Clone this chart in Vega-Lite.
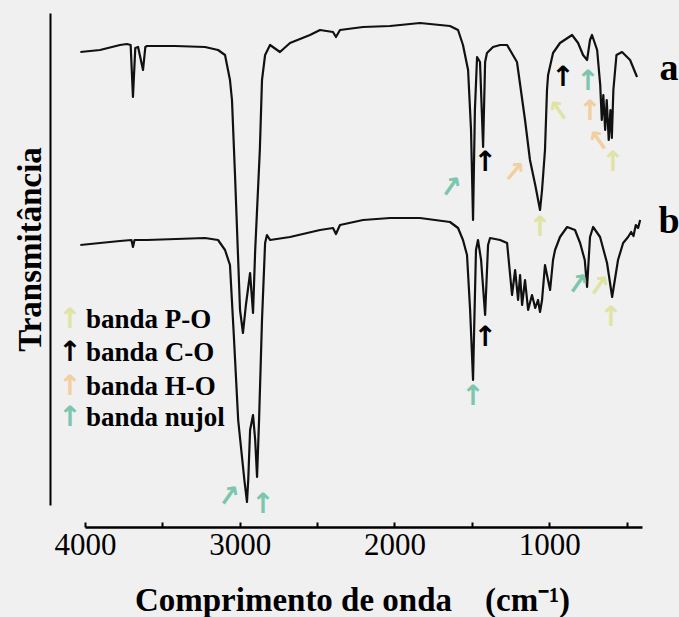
{
  "$schema": "https://vega.github.io/schema/vega-lite/v6.json",
  "width": 557,
  "height": 492,
  "autosize": "none",
  "padding": {"left": 85, "top": 13, "right": 37, "bottom": 112},
  "background": "#f0f0f0",
  "config": {
    "view": {"stroke": null},
    "axis": {"labelFont": "Liberation Serif", "titleFont": "Liberation Serif", "labelColor": "#000000", "titleColor": "#000000"}
  },
  "datasets": {
    "spectra": [
      {"s":"a","wn":4030,"T":90.6},{"s":"a","wn":3903,"T":91.0},{"s":"a","wn":3774,"T":92.0},{"s":"a","wn":3729,"T":92.2},{"s":"a","wn":3705,"T":92.0},{"s":"a","wn":3690,"T":81.6},{"s":"a","wn":3675,"T":91.4},{"s":"a","wn":3657,"T":91.6},{"s":"a","wn":3625,"T":87.0},{"s":"a","wn":3610,"T":91.6},{"s":"a","wn":3599,"T":91.8},{"s":"a","wn":3418,"T":91.8},{"s":"a","wn":3224,"T":91.6},{"s":"a","wn":3140,"T":91.0},{"s":"a","wn":3095,"T":90.0},{"s":"a","wn":3063,"T":85.0},{"s":"a","wn":3050,"T":81.0},{"s":"a","wn":3030,"T":65.6},{"s":"a","wn":3010,"T":49.0},{"s":"a","wn":2998,"T":39.0},{"s":"a","wn":2979,"T":34.4},{"s":"a","wn":2960,"T":40.0},{"s":"a","wn":2933,"T":46.4},{"s":"a","wn":2914,"T":38.4},{"s":"a","wn":2900,"T":51.0},{"s":"a","wn":2870,"T":71.0},{"s":"a","wn":2856,"T":85.0},{"s":"a","wn":2836,"T":90.0},{"s":"a","wn":2804,"T":92.0},{"s":"a","wn":2740,"T":90.6},{"s":"a","wn":2675,"T":92.4},{"s":"a","wn":2546,"T":94.0},{"s":"a","wn":2481,"T":95.0},{"s":"a","wn":2397,"T":94.6},{"s":"a","wn":2378,"T":93.6},{"s":"a","wn":2352,"T":95.0},{"s":"a","wn":2203,"T":95.6},{"s":"a","wn":2028,"T":95.8},{"s":"a","wn":1835,"T":96.4},{"s":"a","wn":1641,"T":95.8},{"s":"a","wn":1589,"T":95.0},{"s":"a","wn":1557,"T":92.0},{"s":"a","wn":1524,"T":87.0},{"s":"a","wn":1505,"T":75.0},{"s":"a","wn":1492,"T":57.0},{"s":"a","wn":1480,"T":79.0},{"s":"a","wn":1466,"T":89.6},{"s":"a","wn":1447,"T":88.6},{"s":"a","wn":1427,"T":71.6},{"s":"a","wn":1414,"T":88.6},{"s":"a","wn":1402,"T":90.4},{"s":"a","wn":1363,"T":91.6},{"s":"a","wn":1317,"T":92.0},{"s":"a","wn":1272,"T":92.0},{"s":"a","wn":1208,"T":88.6},{"s":"a","wn":1156,"T":77.0},{"s":"a","wn":1124,"T":69.0},{"s":"a","wn":1090,"T":64.0},{"s":"a","wn":1059,"T":59.0},{"s":"a","wn":1046,"T":63.0},{"s":"a","wn":1027,"T":71.0},{"s":"a","wn":1014,"T":83.0},{"s":"a","wn":1007,"T":86.0},{"s":"a","wn":975,"T":90.4},{"s":"a","wn":930,"T":92.4},{"s":"a","wn":852,"T":94.0},{"s":"a","wn":813,"T":92.4},{"s":"a","wn":781,"T":90.0},{"s":"a","wn":755,"T":89.0},{"s":"a","wn":736,"T":93.0},{"s":"a","wn":723,"T":94.0},{"s":"a","wn":690,"T":91.0},{"s":"a","wn":670,"T":84.0},{"s":"a","wn":660,"T":77.0},{"s":"a","wn":650,"T":82.0},{"s":"a","wn":638,"T":75.0},{"s":"a","wn":628,"T":81.0},{"s":"a","wn":615,"T":73.0},{"s":"a","wn":604,"T":79.0},{"s":"a","wn":595,"T":73.4},{"s":"a","wn":585,"T":83.0},{"s":"a","wn":565,"T":90.0},{"s":"a","wn":529,"T":90.6},{"s":"a","wn":477,"T":89.0},{"s":"a","wn":432,"T":85.6},
      {"s":"b","wn":4030,"T":52.0},{"s":"b","wn":3903,"T":52.4},{"s":"b","wn":3774,"T":52.8},{"s":"b","wn":3700,"T":53.0},{"s":"b","wn":3690,"T":51.6},{"s":"b","wn":3680,"T":53.0},{"s":"b","wn":3599,"T":53.0},{"s":"b","wn":3224,"T":53.4},{"s":"b","wn":3140,"T":53.0},{"s":"b","wn":3095,"T":51.0},{"s":"b","wn":3063,"T":48.0},{"s":"b","wn":3040,"T":35.0},{"s":"b","wn":3010,"T":17.0},{"s":"b","wn":2970,"T":5.0},{"s":"b","wn":2953,"T":0.6},{"s":"b","wn":2945,"T":5.0},{"s":"b","wn":2933,"T":15.0},{"s":"b","wn":2914,"T":18.0},{"s":"b","wn":2900,"T":13.0},{"s":"b","wn":2888,"T":5.6},{"s":"b","wn":2875,"T":17.0},{"s":"b","wn":2856,"T":37.0},{"s":"b","wn":2836,"T":52.4},{"s":"b","wn":2824,"T":54.0},{"s":"b","wn":2804,"T":53.0},{"s":"b","wn":2675,"T":53.6},{"s":"b","wn":2481,"T":55.0},{"s":"b","wn":2397,"T":55.4},{"s":"b","wn":2378,"T":54.2},{"s":"b","wn":2352,"T":56.0},{"s":"b","wn":2203,"T":57.0},{"s":"b","wn":2028,"T":57.4},{"s":"b","wn":1835,"T":57.4},{"s":"b","wn":1641,"T":56.6},{"s":"b","wn":1589,"T":55.4},{"s":"b","wn":1557,"T":53.0},{"s":"b","wn":1531,"T":50.0},{"s":"b","wn":1511,"T":39.0},{"s":"b","wn":1492,"T":25.0},{"s":"b","wn":1485,"T":35.0},{"s":"b","wn":1473,"T":51.0},{"s":"b","wn":1460,"T":53.0},{"s":"b","wn":1440,"T":49.0},{"s":"b","wn":1414,"T":38.0},{"s":"b","wn":1395,"T":52.0},{"s":"b","wn":1382,"T":53.4},{"s":"b","wn":1317,"T":53.0},{"s":"b","wn":1272,"T":52.4},{"s":"b","wn":1240,"T":42.0},{"s":"b","wn":1220,"T":47.0},{"s":"b","wn":1201,"T":41.0},{"s":"b","wn":1188,"T":46.0},{"s":"b","wn":1175,"T":40.0},{"s":"b","wn":1156,"T":45.0},{"s":"b","wn":1136,"T":39.0},{"s":"b","wn":1111,"T":42.0},{"s":"b","wn":1090,"T":39.4},{"s":"b","wn":1072,"T":41.0},{"s":"b","wn":1059,"T":38.6},{"s":"b","wn":1046,"T":41.0},{"s":"b","wn":1027,"T":48.0},{"s":"b","wn":1014,"T":46.0},{"s":"b","wn":994,"T":43.0},{"s":"b","wn":975,"T":49.0},{"s":"b","wn":962,"T":51.0},{"s":"b","wn":930,"T":53.6},{"s":"b","wn":884,"T":55.6},{"s":"b","wn":833,"T":55.0},{"s":"b","wn":800,"T":52.4},{"s":"b","wn":770,"T":49.0},{"s":"b","wn":755,"T":43.6},{"s":"b","wn":736,"T":53.6},{"s":"b","wn":716,"T":55.6},{"s":"b","wn":671,"T":53.6},{"s":"b","wn":626,"T":48.4},{"s":"b","wn":593,"T":41.6},{"s":"b","wn":555,"T":49.0},{"s":"b","wn":522,"T":52.4},{"s":"b","wn":490,"T":53.6},{"s":"b","wn":470,"T":54.6},{"s":"b","wn":455,"T":53.8},{"s":"b","wn":440,"T":56.0},{"s":"b","wn":425,"T":55.4},{"s":"b","wn":412,"T":57.0}
    ],
    "arrows": [
      {"wn":1641,"T":63.4,"k":"nujol","a":35},
      {"wn":1414,"T":68.4,"k":"C-O","a":0},
      {"wn":1233,"T":66.4,"k":"H-O","a":40},
      {"wn":1059,"T":55.4,"k":"P-O","a":0},
      {"wn":910,"T":85.4,"k":"C-O","a":0},
      {"wn":749,"T":84.6,"k":"nujol","a":0},
      {"wn":930,"T":78.6,"k":"P-O","a":-35},
      {"wn":736,"T":78.6,"k":"H-O","a":0},
      {"wn":671,"T":72.6,"k":"H-O","a":-35},
      {"wn":587,"T":68.4,"k":"P-O","a":0},
      {"wn":820,"T":44.0,"k":"nujol","a":35},
      {"wn":684,"T":43.6,"k":"P-O","a":35},
      {"wn":600,"T":37.4,"k":"P-O","a":0},
      {"wn":1414,"T":33.4,"k":"C-O","a":0},
      {"wn":1492,"T":21.6,"k":"nujol","a":0},
      {"wn":3076,"T":1.6,"k":"nujol","a":35},
      {"wn":2849,"T":0.0,"k":"nujol","a":0},
      {"wn":4097,"T":37.0,"k":"P-O","a":0},
      {"wn":4097,"T":30.4,"k":"C-O","a":0},
      {"wn":4097,"T":23.6,"k":"H-O","a":0},
      {"wn":4097,"T":17.4,"k":"nujol","a":0}
    ],
    "legend": [
      {"wn":3994,"T":37.0,"label":"banda P-O"},
      {"wn":3994,"T":30.4,"label":"banda C-O"},
      {"wn":3994,"T":23.6,"label":"banda H-O"},
      {"wn":3994,"T":17.4,"label":"banda nujol"}
    ],
    "names": [
      {"wn":225,"T":85.0,"label":"a"},
      {"wn":225,"T":54.4,"label":"b"}
    ]
  },
  "encoding": {
    "x": {"field":"wn","type":"quantitative","scale":{"domain":[4000,400],"nice":false,"zero":false}},
    "y": {"field":"T","type":"quantitative","scale":{"domain":[0,98.4],"nice":false,"zero":false}}
  },
  "layer": [
    {
      "data": {"name":"spectra"},
      "mark": {"type":"line","color":"#111111","strokeWidth":2.2,"strokeJoin":"round"},
      "encoding": {
        "detail": {"field":"s","type":"nominal"},
        "x": {"field":"wn","type":"quantitative","scale":{"domain":[4000,400],"nice":false,"zero":false},
          "axis": {"values":[4000,3500,3000,2500,2000,1500,1000,500],"format":"d","labelExpr":"datum.value % 1000 === 0 ? datum.label : ''","labelOverlap":false,"labelFlush":false,
            "title":"Comprimento de onda\u00a0\u00a0\u00a0\u00a0(cm⁻¹)","offset":22,"grid":false,
            "domainColor":"#000000","domainWidth":2.5,"tickColor":"#000000","tickWidth":2,"tickSize":-5,
            "labelFont":"Liberation Serif","labelFontSize":31,"labelFontWeight":"normal","labelColor":"#000000","labelPadding":8,
            "titleFont":"Liberation Serif","titleFontSize":33,"titleFontWeight":"bold","titleColor":"#000000",
            "titleX":267,"titleY":83,"titleBaseline":"alphabetic","titleAlign":"center"}},
        "y": {"field":"T","type":"quantitative","scale":{"domain":[0,98.4],"nice":false,"zero":false},
          "axis": {"title":"Transmitância","offset":35,"ticks":false,"labels":false,"grid":false,
            "domainColor":"#000000","domainWidth":2,
            "titleFont":"Liberation Serif","titleFontSize":33,"titleFontWeight":"bold","titleColor":"#000000",
            "titleAngle":-90,"titleX":-10,"titleY":236,"titleBaseline":"alphabetic","titleAlign":"center"}}
      }
    },
    {
      "data": {"name":"arrows"},
      "mark": {"type":"text","text":"↑","font":"DejaVu Sans","fontWeight":"bold","fontSize":28,"align":"center","baseline":"middle"},
      "encoding": {
        "angle": {"field":"a","type":"quantitative","scale":null},
        "color": {"field":"k","type":"nominal","legend":null,
          "scale":{"domain":["P-O","C-O","H-O","nujol"],"range":["#dfe3a4","#000000","#f1cf9e","#7cc6ae"]}}
      }
    },
    {
      "data": {"name":"legend"},
      "mark": {"type":"text","font":"Liberation Serif","fontWeight":"bold","fontSize":27,"align":"left","baseline":"middle","color":"#000000"},
      "encoding": {"text": {"field":"label"}}
    },
    {
      "data": {"name":"names"},
      "mark": {"type":"text","font":"Liberation Serif","fontWeight":"bold","fontSize":38,"align":"center","baseline":"alphabetic","color":"#000000"},
      "encoding": {"text": {"field":"label"}}
    }
  ]
}
